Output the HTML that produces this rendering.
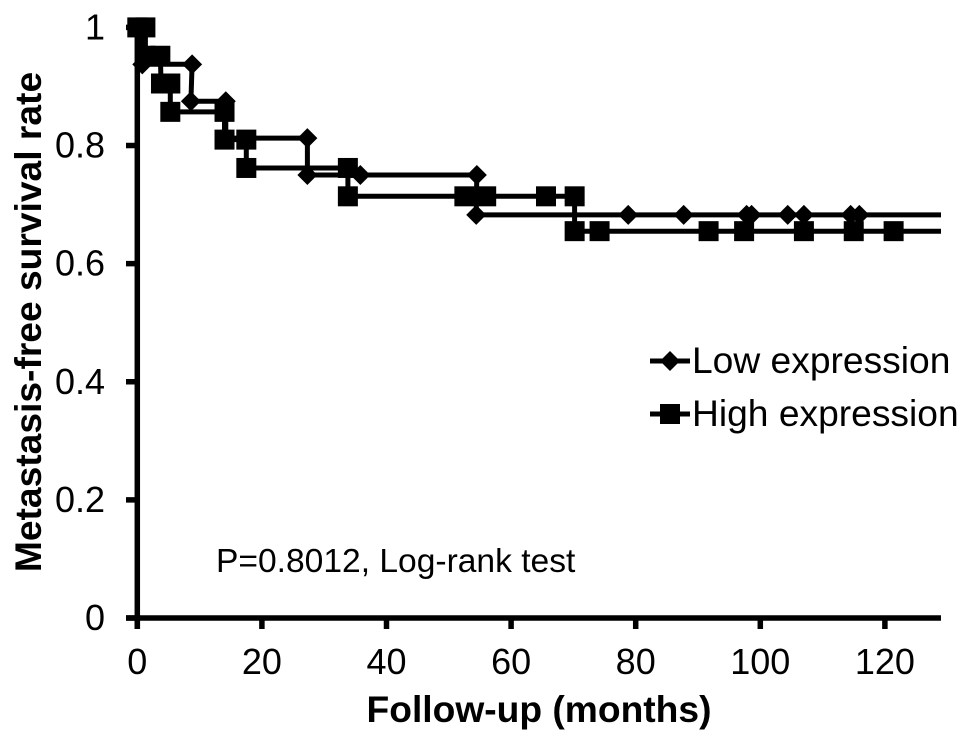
<!DOCTYPE html>
<html lang="en">
<head>
<meta charset="utf-8">
<title>Metastasis-free survival</title>
<style>
html,body{margin:0;padding:0;background:#fff;}
svg{display:block;}
text{font-family:"Liberation Sans",Arial,sans-serif;fill:#000;}
</style>
</head>
<body>
<svg id="chart" xmlns="http://www.w3.org/2000/svg" width="969" height="743" viewBox="0 0 969 743">
  <rect width="969" height="743" fill="#fff"/>
  <g id="lines"></g>
  <g id="markers"></g>
  <g id="axes"></g>
  <text x="539" y="722" font-size="37.2" font-weight="bold" text-anchor="middle">Follow-up (months)</text>
  <text transform="translate(41 322) rotate(-90)" font-size="37.2" font-weight="bold" text-anchor="middle">Metastasis-free survival rate</text>
  <text x="216" y="572" font-size="33.6">P=0.8012, Log-rank test</text>
  <g>
    <g>
      <line x1="650" y1="361" x2="690" y2="361" stroke="#000" stroke-width="5"/>
      <polygon points="660,361 670,351 680,361 670,371" fill="#000"/>
      <text x="692" y="373" font-size="37.2">Low expression</text>
    </g>
    <g>
      <line x1="650" y1="414" x2="690" y2="414" stroke="#000" stroke-width="5"/>
      <rect x="660" y="404" width="20" height="20" fill="#000"/>
      <text x="692" y="426" font-size="37.2">High expression</text>
    </g>
  </g>
</svg>
<script>
const lowTimes = [0, 0.8, 0.8, 8.8, 8.6, 14.2, 14.2, 27.3, 27.3, 35.8, 54.5, 54.4, 78.8, 87.7, 97.8, 98.6, 104.4, 107, 114.5, 115.9];
const lowRates = [1, 1, 0.9375, 0.9375, 0.875, 0.875, 0.8125, 0.8125, 0.75, 0.75, 0.75, 0.6825, 0.6825, 0.6825, 0.6825, 0.6825, 0.6825, 0.6825, 0.6825, 0.6825];
const highTimes = [0, 1.3, 1.3, 3.7, 3.8, 5.3, 5.3, 14, 14, 17.5, 17.5, 33.8, 33.8, 52.5, 56, 65.6, 70.2, 70.2, 74.2, 91.7, 97.4, 107, 115, 121.4];
const highRates = [1, 1, 0.952, 0.952, 0.905, 0.905, 0.857, 0.857, 0.81, 0.81, 0.762, 0.762, 0.714, 0.714, 0.714, 0.714, 0.714, 0.655, 0.655, 0.655, 0.655, 0.655, 0.655, 0.655];
const followUpEnd = 129;
const xTicks = [0, 20, 40, 60, 80, 100, 120];
const yTicks = [0, 0.2, 0.4, 0.6, 0.8, 1];

const NS = 'http://www.w3.org/2000/svg';
const xScale = function (t) { return 137.3 + t * 6.23; };
const yScale = function (r) { return 618 - r * 590.6; };
const make = function (tag, attrs, parent) {
  const el = document.createElementNS(NS, tag);
  Object.keys(attrs).forEach(function (k) { el.setAttribute(k, attrs[k]); });
  parent.appendChild(el);
  return el;
};
const linesG = document.getElementById('lines');
const markersG = document.getElementById('markers');
const axesG = document.getElementById('axes');

function drawSeries(times, rates, kind) {
  let pts = times.map(function (t, i) { return xScale(t).toFixed(1) + ',' + yScale(rates[i]).toFixed(1); });
  pts.push(xScale(followUpEnd).toFixed(1) + ',' + yScale(rates[rates.length - 1]).toFixed(1));
  const line = make('polyline', { points: pts.join(' '), fill: 'none', stroke: '#000', 'stroke-width': 5, 'stroke-linejoin': 'miter' }, linesG);
  
  
  times.forEach(function (t, i) {
    const cx = xScale(t);
    const cy = yScale(rates[i]);
    let m;
    if (kind === 'low') {
      m = make('polygon', { points: (cx - 10) + ',' + cy + ' ' + cx + ',' + (cy - 10) + ' ' + (cx + 10) + ',' + cy + ' ' + cx + ',' + (cy + 10), fill: '#000' }, markersG);
    } else {
      m = make('rect', { x: cx - 10, y: cy - 10, width: 20, height: 20, fill: '#000' }, markersG);
    }
    
    
  });
}
drawSeries(lowTimes, lowRates, 'low');
drawSeries(highTimes, highRates, 'high');

const xAxisLine = make('line', { x1: 126, y1: yScale(0), x2: xScale(followUpEnd), y2: yScale(0), stroke: '#000', 'stroke-width': 5.5 }, axesG);


const yAxisLine = make('line', { x1: xScale(0), y1: yScale(1) - 3, x2: xScale(0), y2: 629, stroke: '#000', 'stroke-width': 5.5 }, axesG);



xTicks.forEach(function (v) {
  const tick = make('line', { x1: xScale(v), y1: yScale(0), x2: xScale(v), y2: 629, stroke: '#000', 'stroke-width': 5.5 }, axesG);
  
  
  const label = make('text', { x: xScale(v), y: 674, 'font-size': 36, 'text-anchor': 'middle' }, axesG);
  label.textContent = String(v);
  
  
});
yTicks.forEach(function (v) {
  const tick = make('line', { x1: 126, y1: yScale(v), x2: xScale(0), y2: yScale(v), stroke: '#000', 'stroke-width': 5.5 }, axesG);
  
  
  const label = make('text', { x: 105, y: yScale(v) + 12, 'font-size': 36, 'text-anchor': 'end' }, axesG);
  label.textContent = String(v);
  
  
});
</script>
</body>
</html>
